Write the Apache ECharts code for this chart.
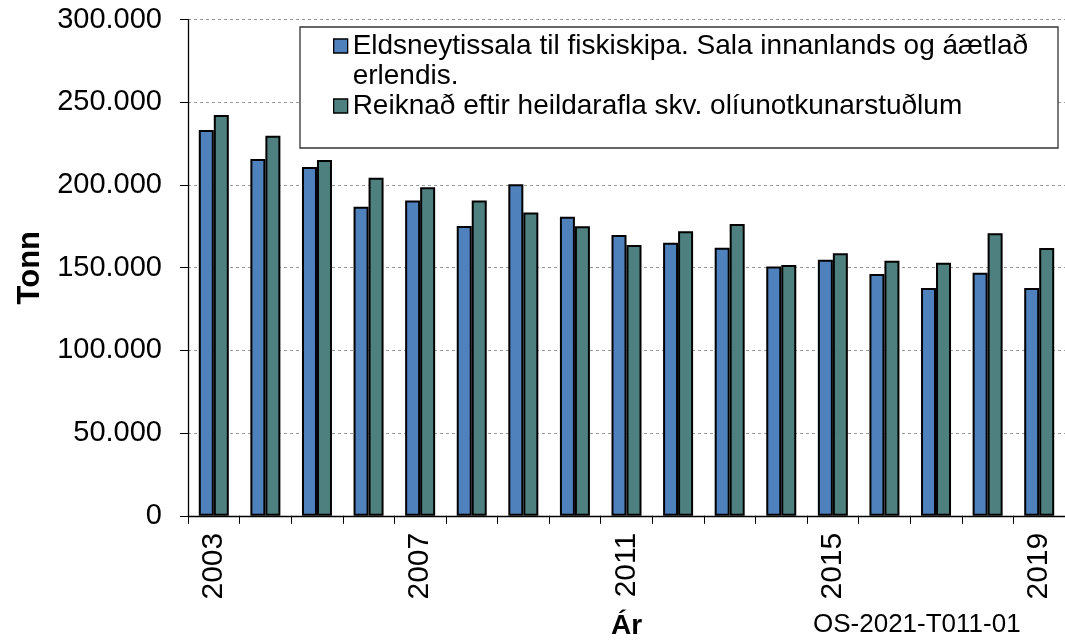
<!DOCTYPE html>
<html>
<head>
<meta charset="utf-8">
<script src="https://cdn.jsdelivr.net/npm/echarts@6/dist/echarts.min.js"></script>
<style>
  html, body { margin: 0; padding: 0; background: #fff; }
  #main { width: 1065px; height: 640px; }
</style>
</head>
<body>
<div id="main"></div>
<script>
// Ár
var years = ['2003', '2004', '2005', '2006', '2007', '2008', '2009', '2010', '2011',
             '2012', '2013', '2014', '2015', '2016', '2017', '2018', '2019'];
// Eldsneytissala til fiskiskipa (tonn)
var salaValues = [233300, 215700, 210900, 186900, 190700, 175200, 200400, 180800, 169800,
                  165100, 162100, 150800, 154800, 146200, 137700, 147000, 137700];
// Reiknað eftir heildarafla (tonn)
var reiknadValues = [242300, 229800, 215100, 204400, 198600, 190700, 183300, 175000, 163700,
                     172000, 176400, 151600, 158700, 154200, 153000, 170800, 161900];
var seriesNames = ['Eldsneytissala til fiskiskipa. Sala innanlands og áætlað erlendis.',
                   'Reiknað eftir heildarafla skv. olíunotkunarstuðlum'];

var fontFam = "'Liberation Sans', Arial, sans-serif";

// þúsundir með punkti
function fmtThousands(v) {
    return String(v).replace(/\B(?=(\d{3})+(?!\d))/g, '.');
}

var chart = echarts.init(document.getElementById('main'));
var option = {
    animation: false,
    textStyle: { fontFamily: fontFam, color: '#000' },
    grid: { left: 188, right: 0, top: 19.6, bottom: 124.2, containLabel: false, outerBoundsMode: 'none' },
    graphic: [{
        type: 'rect',
        shape: { x: 300, y: 27, width: 758, height: 121 },
        style: { fill: '#fff', stroke: '#333', lineWidth: 1.3 },
        z: 10
    }, {
        type: 'text',
        left: 813,
        top: 612,
        style: { text: 'OS-2021-T011-01', fontSize: 26, fontFamily: fontFam, fill: '#000' }
    }],
    legend: {
        orient: 'vertical',
        left: 333,
        top: 1,
        padding: 0,
        icon: 'rect',
        itemWidth: 14,
        itemHeight: 14,
        itemGap: 0,
        itemStyle: { borderColor: '#000', borderWidth: 1.3 },
        z: 20,
        formatter: function (name) {
            // fyrsti textinn í tvær línur, tóm lína efst svo fyrsta línan standi við táknið
            if (name === seriesNames[0]) {
                return ' \n' + name.replace(' erlendis.', '\nerlendis.');
            }
            return name;
        },
        textStyle: { fontSize: 28, lineHeight: 30, color: '#000', fontFamily: fontFam },
        data: seriesNames
    },
    xAxis: {
        type: 'category',
        data: years,
        name: 'Ár',
        nameLocation: 'middle',
        nameGap: 96,
        nameTextStyle: { fontSize: 28, fontWeight: 'bold', color: '#000' },
        axisLine: { lineStyle: { color: '#000', width: 1.3 } },
        axisTick: { show: true, length: 8, interval: 0, lineStyle: { color: '#000' } },
        axisLabel: { interval: 3, rotate: 90, margin: 17, fontSize: 30, color: '#000' },
        splitLine: { show: false }
    },
    yAxis: {
        type: 'value',
        min: 0,
        max: 300000,
        interval: 50000,
        name: 'Tonn',
        nameLocation: 'middle',
        nameGap: 141,
        nameTextStyle: { fontSize: 31, fontWeight: 'bold', color: '#000' },
        axisLine: { show: true, lineStyle: { color: '#000', width: 1.3 } },
        axisTick: { show: true, length: 8, lineStyle: { color: '#000' } },
        axisLabel: { margin: 26, fontSize: 29, color: '#000', formatter: fmtThousands },
        splitLine: { show: true, lineStyle: { color: '#999', type: [3, 3], width: 1 } }
    },
    series: [{
        name: seriesNames[0],
        type: 'bar',
        data: salaValues,
        barWidth: 15,
        barGap: '0%',
        itemStyle: { color: '#4F81BD', borderColor: '#000', borderWidth: 2 }
    }, {
        name: seriesNames[1],
        type: 'bar',
        data: reiknadValues,
        barWidth: 15,
        itemStyle: { color: '#4F8080', borderColor: '#000', borderWidth: 2 }
    }]
};
chart.setOption(option);
</script>
</body>
</html>
